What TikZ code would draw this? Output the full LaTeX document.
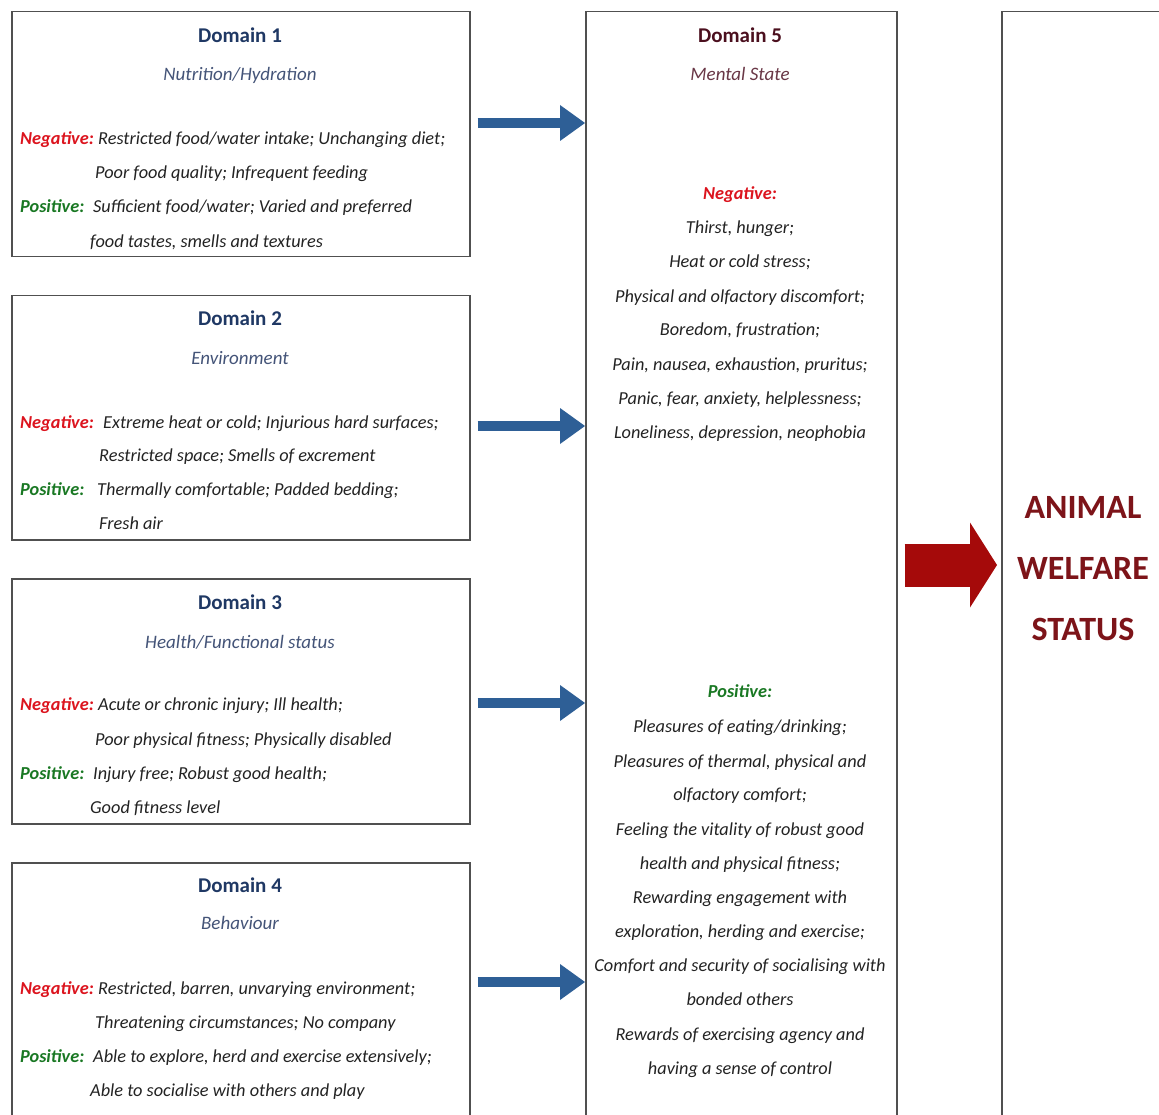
\documentclass[tikz,border=0pt]{standalone}
\usepackage{fontspec}
\setmainfont{Carlito}
\usetikzlibrary{arrows.meta,calc}
\definecolor{boxgray}{RGB}{80,80,80}
\definecolor{navy}{RGB}{31,56,100}
\definecolor{slate}{RGB}{68,84,120}
\definecolor{negred}{RGB}{220,20,30}
\definecolor{posgreen}{RGB}{25,120,35}
\definecolor{bodygray}{RGB}{35,35,35}
\definecolor{maroon}{RGB}{75,15,30}
\definecolor{mauve}{RGB}{105,55,70}
\definecolor{welfare}{RGB}{125,20,25}
\definecolor{arrred}{RGB}{165,10,10}
\definecolor{arrblue}{RGB}{46,95,150}
\begin{document}
\begin{tikzpicture}[x=1pt,y=-1pt,
  box/.style={draw=boxgray, line width=1.5pt, inner sep=0pt, anchor=north west},
  dtitle/.style={font=\fontsize{21}{24}\selectfont\bfseries, text=navy, anchor=mid, inner sep=0pt, yshift=-5pt},
  dsub/.style={font=\fontsize{19}{22}\selectfont\itshape, text=slate, anchor=mid, inner sep=0pt, yshift=-5pt},
  neglab/.style={font=\fontsize{18.3}{21}\selectfont\bfseries\itshape, text=negred, anchor=mid west, inner sep=0pt, yshift=-5pt},
  poslab/.style={font=\fontsize{18.3}{21}\selectfont\bfseries\itshape, text=posgreen, anchor=mid west, inner sep=0pt, yshift=-5pt},
  body/.style={font=\fontsize{18.3}{21}\selectfont\itshape, text=bodygray, anchor=mid west, inner sep=0pt, yshift=-5pt},
  cbody/.style={body, anchor=mid},
  blarrow/.style={draw=arrblue, line width=10pt, -{Triangle[length=25pt,width=36pt,line width=0pt]}, shorten <=7pt},
  rdarrow/.style={draw=arrred, line width=43pt, -{Triangle[length=27pt,width=85pt,line width=0pt]}, shorten <=7pt, shorten >=4pt},
  welf/.style={font=\fontsize{34}{40}\selectfont\bfseries, text=welfare, anchor=mid, inner sep=0pt, yshift=-9pt}
]
\useasboundingbox (0,0) rectangle (1159,1115);
\clip (0,0) rectangle (1159,1115);
\fill[white] (0,0) rectangle (1159,1115);

% boxes
\node[box, minimum width=458pt, minimum height=245pt] (b1) at (11,11) {};
\node[box, minimum width=458pt, minimum height=244pt] (b2) at (11,295) {};
\node[box, minimum width=458pt, minimum height=245pt] (b3) at (11,578) {};
\node[box, minimum width=458pt, minimum height=270pt] (b4) at (11,862) {};
\node[box, minimum width=311pt, minimum height=1120pt] (d5) at (585,11) {};
\node[box, minimum width=180pt, minimum height=1120pt] (rb) at (1001,11) {};

% Domain 1
\node[dtitle] (t1) at (240,35) {Domain 1};
\node[dsub] (s1) at (240,73) {Nutrition/Hydration};
\node[neglab] (n1) at (20,137) {Negative:};
\node[body] (n1a) at (98,137) {Restricted food/water intake; Unchanging diet;};
\node[body] (n1b) at (95,171) {Poor food quality; Infrequent feeding};
\node[poslab] (p1) at (20,205) {Positive:};
\node[body] (p1a) at (93,205) {Sufficient food/water; Varied and preferred};
\node[body] (p1b) at (90,240) {food tastes, smells and textures};

% Domain 2
\node[dtitle] (t2) at (240,318) {Domain 2};
\node[dsub] (s2) at (240,357) {Environment};
\node[neglab] (n2) at (20,421) {Negative:};
\node[body] (n2a) at (103,421) {Extreme heat or cold; Injurious hard surfaces;};
\node[body] (n2b) at (99,454) {Restricted space; Smells of excrement};
\node[poslab] (p2) at (20,488) {Positive:};
\node[body] (p2a) at (97,488) {Thermally comfortable; Padded bedding;};
\node[body] (p2b) at (99,522) {Fresh air};

% Domain 3
\node[dtitle] (t3) at (240,602) {Domain 3};
\node[dsub] (s3) at (240,641) {Health/Functional status};
\node[neglab] (n3) at (20,703) {Negative:};
\node[body] (n3a) at (98,703) {Acute or chronic injury; Ill health;};
\node[body] (n3b) at (95,738) {Poor physical fitness; Physically disabled};
\node[poslab] (p3) at (20,772) {Positive:};
\node[body] (p3a) at (93,772) {Injury free; Robust good health;};
\node[body] (p3b) at (90,806) {Good fitness level};

% Domain 4
\node[dtitle] (t4) at (240,885) {Domain 4};
\node[dsub] (s4) at (240,922) {Behaviour};
\node[neglab] (n4) at (20,987) {Negative:};
\node[body] (n4a) at (98,987) {Restricted, barren, unvarying environment;};
\node[body] (n4b) at (95,1021) {Threatening circumstances; No company};
\node[poslab] (p4) at (20,1055) {Positive:};
\node[body] (p4a) at (93,1055) {Able to explore, herd and exercise extensively;};
\node[body] (p4b) at (90,1089) {Able to socialise with others and play};

% Domain 5
\node[dtitle, text=maroon] (t5) at (740,35) {Domain 5};
\node[dsub, text=mauve] (s5) at (740,73) {Mental State};
\node[neglab, anchor=mid] (n5) at (740,192) {Negative:};
\foreach \t/\yy in {{Thirst, hunger;}/226, {Heat or cold stress;}/260,
  {Physical and olfactory discomfort;}/295, {Boredom, frustration;}/328,
  {Pain, nausea, exhaustion, pruritus;}/363, {Panic, fear, anxiety, helplessness;}/397,
  {Loneliness, depression, neophobia}/431}
  \node[cbody] (m\yy) at (740,\yy) {\t};
\node[poslab, anchor=mid] (p5) at (740,690) {Positive:};
\foreach \t/\yy in {{Pleasures of eating/drinking;}/725, {Pleasures of thermal, physical and}/760,
  {olfactory comfort;}/793, {Feeling the vitality of robust good}/828,
  {health and physical fitness;}/862, {Rewarding engagement with}/896,
  {exploration, herding and exercise;}/930, {Comfort and security of socialising with}/964,
  {bonded others}/998, {Rewards of exercising agency and}/1033,
  {having a sense of control}/1067}
  \node[cbody] (q\yy) at (740,\yy) {\t};

% Animal welfare status
\node[welf] (w1) at (1083,507) {ANIMAL};
\node[welf] (w2) at (1083,568) {WELFARE};
\node[welf] (w3) at (1083,629) {STATUS};

% arrows
\coordinate (y1) at (0,123);
\coordinate (y2) at (0,426);
\coordinate (y3) at (0,703);
\coordinate (y4) at (0,982);
\coordinate (ry) at (0,565);
\draw[blarrow] (b1.east |- y1) -- (d5.west |- y1);
\draw[blarrow] (b2.east |- y2) -- (d5.west |- y2);
\draw[blarrow] (b3.east |- y3) -- (d5.west |- y3);
\draw[blarrow] (b4.east |- y4) -- (d5.west |- y4);
\draw[rdarrow] (d5.east |- ry) -- (rb.west |- ry);
\end{tikzpicture}
\end{document}
